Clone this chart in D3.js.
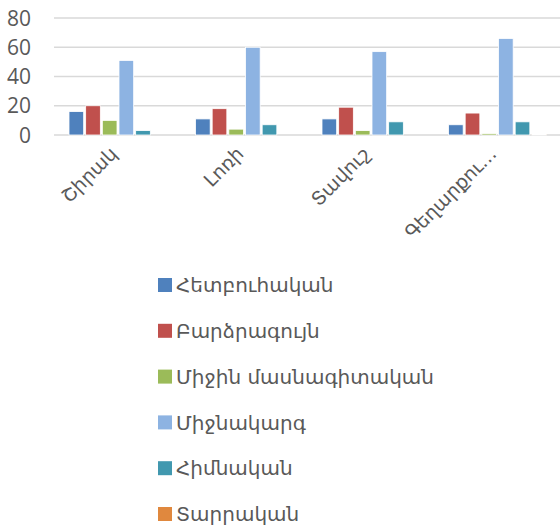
<!DOCTYPE html>
<html><head><meta charset="utf-8">
<script src="https://cdn.jsdelivr.net/npm/d3@7"></script>
<style>body{margin:0;background:#fff}</style>
</head><body>
<svg id="c" width="560" height="525"></svg>
<script>
const categories = ["Շիրակ", "Լոռի", "Տավուշ", "Գեղարքու…"];
const seriesNames = ["Հետբուհական", "Բարձրագույն", "Միջին մասնագիտական", "Միջնակարգ", "Հիմնական", "Տարրական"];
const seriesColors = ["#4f81bd", "#c0504d", "#9bbb59", "#8db3e2", "#4198af", "#e0883e"];
const postgrad   = [16, 11, 11, 7];
const higher     = [20, 18, 19, 15];
const vocational = [10, 4, 3, 1];
const secondary  = [51, 60, 57, 66];
const basic      = [3, 7, 9, 9];
const primary    = [0, 0, 0, 0.5];
const yTicks = [0, 20, 40, 60, 80];

const seriesValues = [postgrad, higher, vocational, secondary, basic, primary];
const svg = d3.select("#c");
const x0 = d3.scaleBand().domain(categories).range([54, 560]).paddingInner(0).paddingOuter(0);
const x1 = d3.scaleBand().domain(seriesNames).range([13, x0.bandwidth() - 11.5]).padding(0.12);
const y = d3.scaleLinear().domain([0, 80]).range([135, 18]);

// gridlines
svg.append("g").selectAll("line").data(yTicks).join("line")
  .attr("x1", 54).attr("x2", 560)
  .attr("y1", d => y(d)).attr("y2", d => y(d))
  .attr("stroke", "#d9d9d9").attr("stroke-width", 1.5);

// y labels
svg.append("g").selectAll("text").data(yTicks).join("text")
  .attr("x", 31).attr("y", d => y(d)).attr("dy", "0.36em")
  .attr("text-anchor", "end")
  .attr("font-family", "'Open Sans', 'DejaVu Sans', sans-serif")
  .attr("font-size", 21).attr("fill", "#595959")
  .text(d => d);

// bars
const groups = svg.append("g").selectAll("g").data(categories).join("g")
  .attr("transform", d => `translate(${x0(d)},0)`);
groups.selectAll("rect").data((c, ci) => seriesNames.map((s, si) => ({s, si, v: seriesValues[si][ci]})))
  .join("rect")
  .attr("x", d => x1(d.s)).attr("width", x1.bandwidth())
  .attr("y", d => y(d.v)).attr("height", d => y(0) - y(d.v))
  .attr("fill", d => seriesColors[d.si])
  .attr("stroke", "#fff").attr("stroke-width", 0.8);

// category labels
svg.append("g").selectAll("text").data(categories).join("text")
  .attr("transform", d => `translate(${x0(d) + x0.bandwidth() / 2 + 1},${155}) rotate(-45)`)
  .attr("text-anchor", "end")
  .attr("font-family", "'DejaVu Sans', sans-serif")
  .attr("font-size", 19).attr("fill", "#595959")
  .text(d => d);

// legend
const leg = svg.append("g").selectAll("g").data(seriesNames).join("g")
  .attr("transform", (d, i) => `translate(158,${285 + i * 45.8})`);
leg.append("rect").attr("x", 0).attr("y", -7).attr("width", 14).attr("height", 14)
  .attr("fill", (d, i) => seriesColors[i]);
leg.append("text").attr("x", 18).attr("y", 0).attr("dy", "0.36em")
  .attr("font-family", "'DejaVu Sans', sans-serif")
  .attr("font-size", 20).attr("fill", "#595959")
  .text(d => d);
</script>
</body></html>
